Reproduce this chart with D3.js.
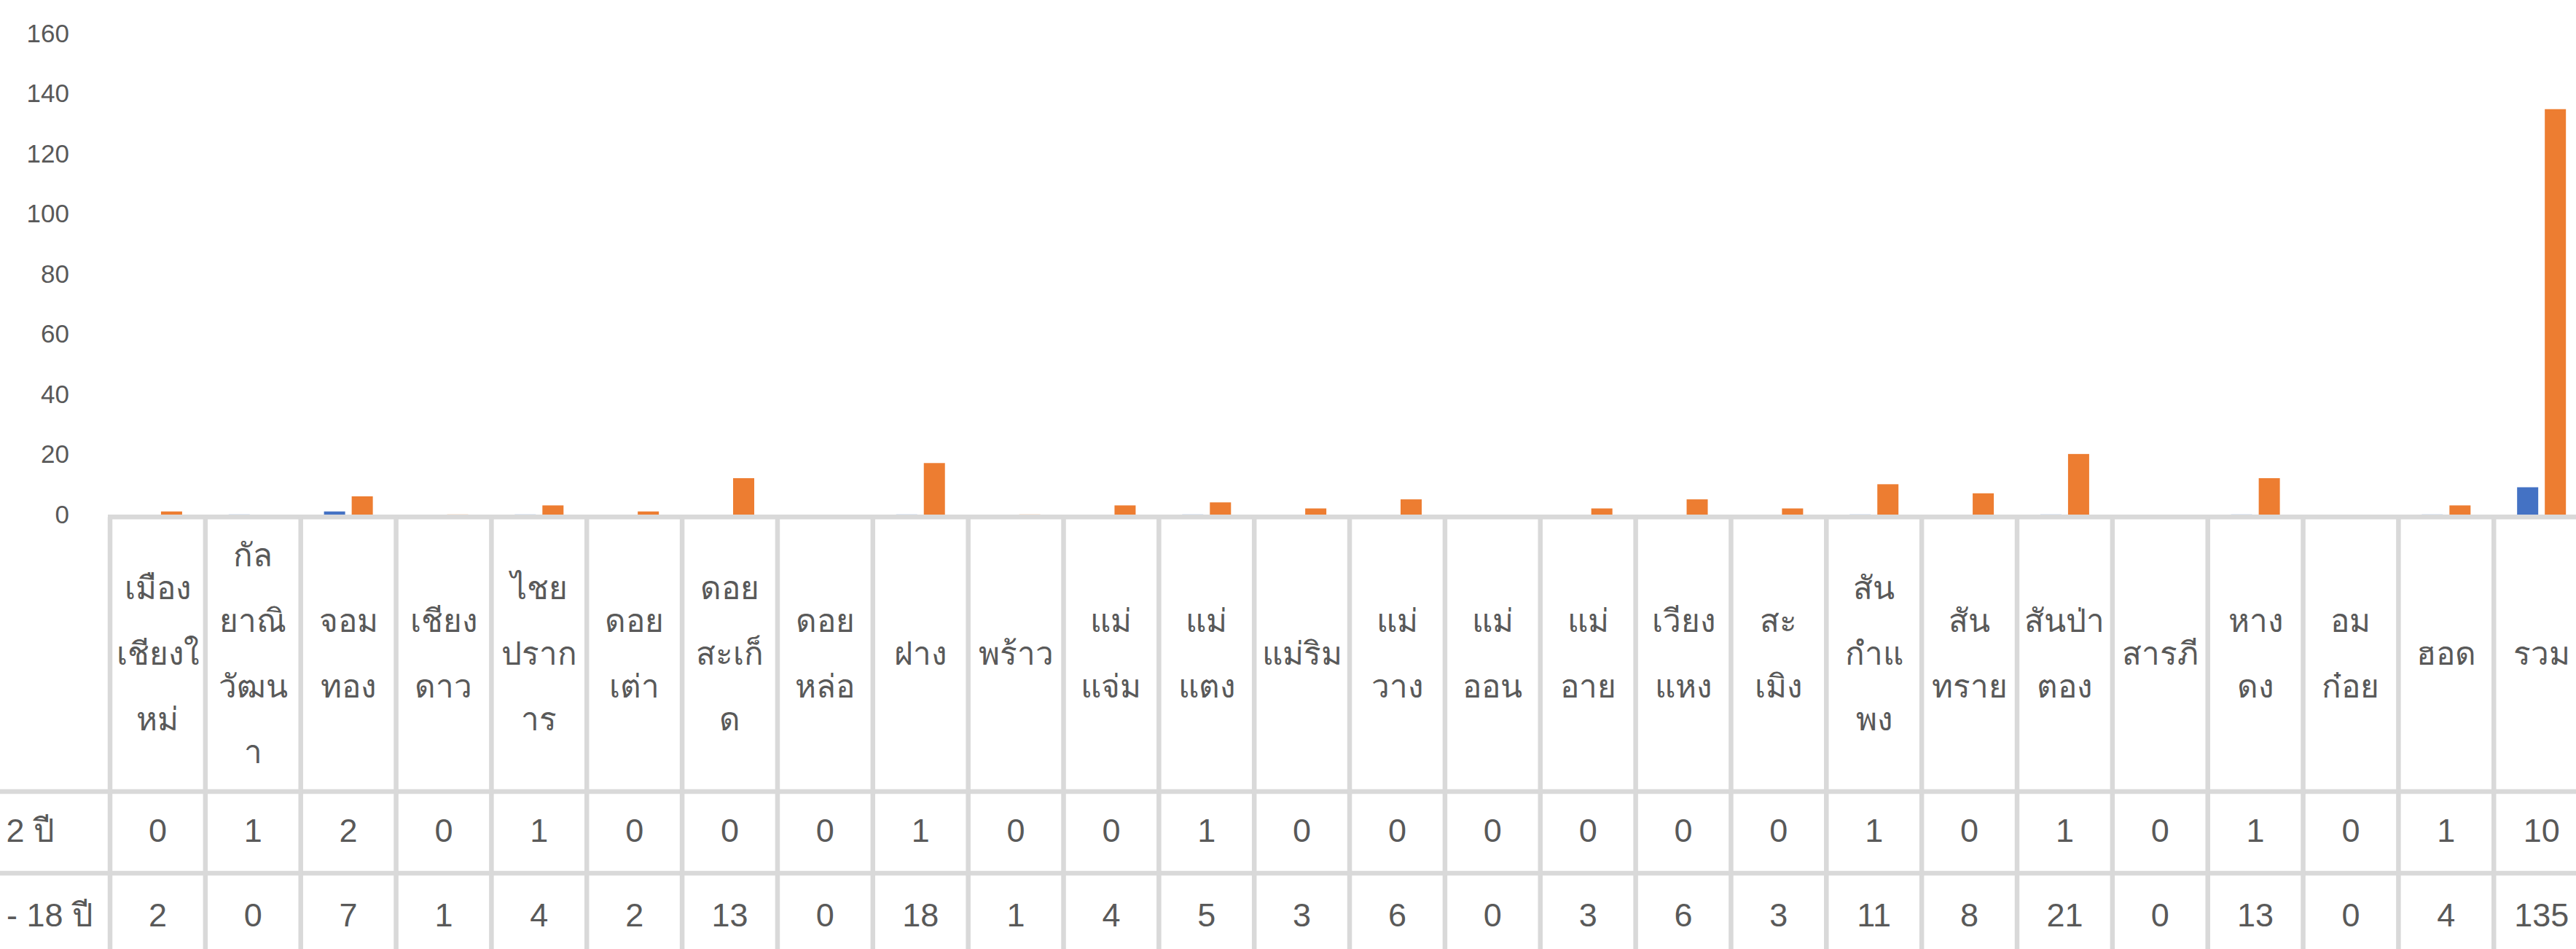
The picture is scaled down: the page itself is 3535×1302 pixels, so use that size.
<!DOCTYPE html>
<html>
<head>
<meta charset="utf-8">
<script src="https://cdn.jsdelivr.net/npm/d3@7"></script>
<style>
  body { margin: 0; background: #fff; }
  svg { display: block; }
</style>
</head>
<body>
<svg id="chart" width="3535" height="1302"></svg>
<script>
// districts (category order) and how the header wraps them
const districts = ["เมืองเชียงใหม่", "กัลยาณิวัฒนา", "จอมทอง", "เชียงดาว", "ไชยปราการ", "ดอยเต่า",
  "ดอยสะเก็ด", "ดอยหล่อ", "ฝาง", "พร้าว", "แม่แจ่ม", "แม่แตง", "แม่ริม", "แม่วาง", "แม่ออน",
  "แม่อาย", "เวียงแหง", "สะเมิง", "สันกำแพง", "สันทราย", "สันป่าตอง", "สารภี", "หางดง",
  "อมก๋อย", "ฮอด", "รวม"];
const headerLines = [["เมือง", "เชียงใ", "หม่"], ["กัล", "ยาณิ", "วัฒน", "า"], ["จอม", "ทอง"],
  ["เชียง", "ดาว"], ["ไชย", "ปราก", "าร"], ["ดอย", "เต่า"], ["ดอย", "สะเก็", "ด"], ["ดอย", "หล่อ"],
  ["ฝาง"], ["พร้าว"], ["แม่", "แจ่ม"], ["แม่", "แตง"], ["แม่ริม"], ["แม่", "วาง"], ["แม่", "ออน"],
  ["แม่", "อาย"], ["เวียง", "แหง"], ["สะ", "เมิง"], ["สัน", "กำแ", "พง"], ["สัน", "ทราย"],
  ["สันป่า", "ตอง"], ["สารภี"], ["หาง", "ดง"], ["อม", "ก๋อย"], ["ฮอด"], ["รวม"]];

const seriesNames = ["2 ปี", "- 18 ปี"];
const under2 = [0, 1, 2, 0, 1, 0, 0, 0, 1, 0, 0, 1, 0, 0, 0, 0, 0, 0, 1, 0, 1, 0, 1, 0, 1, 10];
const age2to18 = [2, 0, 7, 1, 4, 2, 13, 0, 18, 1, 4, 5, 3, 6, 0, 3, 6, 3, 11, 8, 21, 0, 13, 0, 4, 135];
const yTicks = [0, 20, 40, 60, 80, 100, 120, 140, 160];

const seriesValues = [under2, age2to18];
const colors = ["#4472C4", "#ED7D31"];
const gridColor = "#d9d9d9";
const textColor = "#595959";
const font = "'Liberation Sans', Arial, sans-serif";

const svg = d3.select("#chart");
const plotLeft = 151, colW = 130.85;
const plotTop = 46, base = 710;
const axisLineY = 709.3, headBottom = 1086, row1Bottom = 1198, row2Bottom = 1310;

const x0 = d3.scaleBand().domain(districts).range([plotLeft, plotLeft + colW * districts.length]);
const x1 = d3.scaleBand().domain(seriesNames).range([0, x0.bandwidth()])
  .paddingInner(0.237).paddingOuter(0.84);
const y = d3.scaleLinear().domain([0, 160]).range([base, plotTop]);

// y axis labels only (label for 0 sits on the table's top line)
const yAxis = svg.append("g")
  .attr("transform", "translate(95,0)")
  .call(d3.axisLeft(d3.scaleLinear().domain([0, 160]).range([706, plotTop]))
    .tickValues(yTicks).tickSize(0).tickPadding(0));
yAxis.select(".domain").remove();
yAxis.selectAll("text")
  .attr("fill", textColor)
  .style("font-family", font)
  .style("font-size", "35px");

// bars
const groups = svg.append("g").selectAll("g")
  .data(districts)
  .join("g")
  .attr("transform", d => `translate(${x0(d)},0)`);
groups.selectAll("rect")
  .data((d, i) => seriesNames.map((s, k) => ({s: s, v: seriesValues[k][i], k: k})))
  .join("rect")
  .attr("x", d => x1(d.s))
  .attr("width", x1.bandwidth())
  .attr("y", d => y(d.v))
  .attr("height", d => base - y(d.v))
  .attr("fill", d => colors[d.k]);

// data table grid (drawn over the bar feet)
const grid = svg.append("g").attr("stroke", gridColor).attr("stroke-width", 6.5);
const plotRight = plotLeft + colW * districts.length;
grid.append("line").attr("x1", plotLeft - 3).attr("x2", plotRight).attr("y1", axisLineY).attr("y2", axisLineY);
[headBottom, row1Bottom].forEach(yy =>
  grid.append("line").attr("x1", 0).attr("x2", plotRight).attr("y1", yy).attr("y2", yy));
districts.forEach(d =>
  grid.append("line").attr("x1", x0(d)).attr("x2", x0(d)).attr("y1", axisLineY).attr("y2", row2Bottom));
grid.append("line").attr("x1", plotRight).attr("x2", plotRight).attr("y1", axisLineY).attr("y2", row2Bottom);

// header text
const headMid = 897, lineH = 90;
const head = svg.append("g")
  .attr("fill", textColor)
  .style("font-family", font)
  .style("font-size", "44px")
  .attr("text-anchor", "middle");
districts.forEach((d, i) => {
  const lines = headerLines[i];
  lines.forEach((t, j) => {
    head.append("text")
      .attr("x", x0(d) + x0.bandwidth() / 2)
      .attr("y", headMid + (j - (lines.length - 1) / 2) * lineH)
      .attr("dy", "0.35em")
      .text(t);
  });
});

// value rows
const rowMids = [1139, 1255];
const rows = svg.append("g")
  .attr("fill", textColor)
  .style("font-family", font)
  .style("font-size", "45px");
seriesValues.forEach((vals, k) => {
  rows.selectAll(null)
    .data(vals)
    .join("text")
    .attr("x", (v, i) => x0(districts[i]) + x0.bandwidth() / 2)
    .attr("y", rowMids[k])
    .attr("dy", "0.35em")
    .attr("text-anchor", "middle")
    .text(v => v);
});

// row labels (cut off at the left edge in the source)
const labelEnds = [75, 128];
seriesNames.forEach((s, k) => {
  rows.append("text")
    .attr("x", labelEnds[k])
    .attr("y", rowMids[k])
    .attr("dy", "0.35em")
    .attr("text-anchor", "end")
    .text(s);
});
</script>
</body>
</html>
